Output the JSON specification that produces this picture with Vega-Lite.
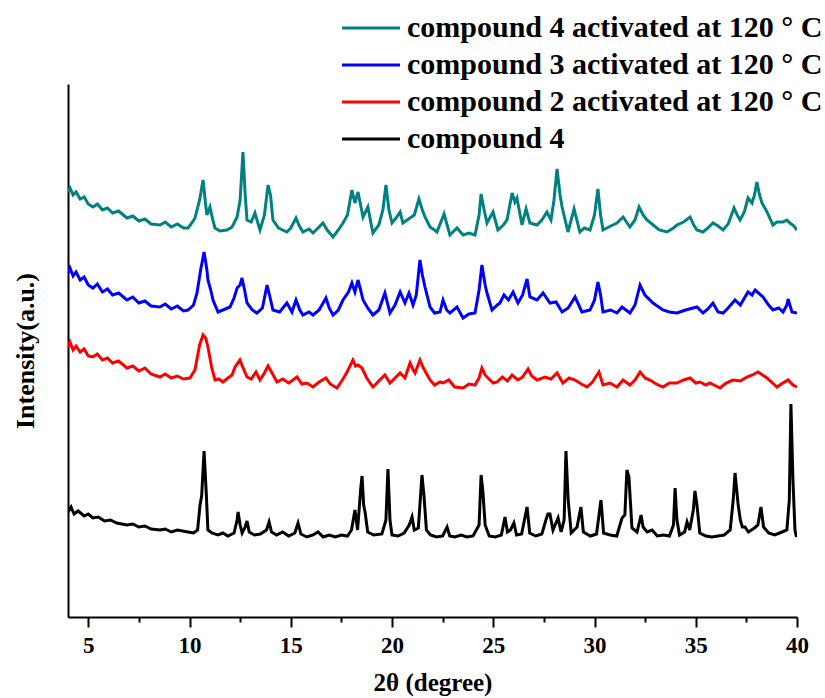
{
  "$schema": "https://vega.github.io/schema/vega-lite/v6.json",
  "width": 729,
  "height": 533,
  "autosize": {"type": "none"},
  "padding": {"left": 68, "top": 84, "right": 28, "bottom": 81},
  "background": "white",
  "config": {
    "view": {"stroke": null},
    "font": "Liberation Serif"
  },
  "datasets": {
    "teal": [
      {"x":4.00,"y":425},{"x":4.1,"y":429},{"x":4.25,"y":422},{"x":4.4,"y":425},{"x":4.6,"y":418},{"x":4.8,"y":420},{"x":5.0,"y":413},{"x":5.23,"y":410},{"x":5.45,"y":413},{"x":5.7,"y":407},{"x":5.95,"y":409},{"x":6.2,"y":404},{"x":6.5,"y":406},{"x":6.91,"y":399},{"x":7.2,"y":401},{"x":7.5,"y":396},{"x":7.8,"y":398},{"x":8.1,"y":393},{"x":8.54,"y":392},{"x":8.8,"y":395},{"x":9.1,"y":390},{"x":9.4,"y":393},{"x":9.7,"y":389},{"x":9.93,"y":389},{"x":10.15,"y":395},{"x":10.27,"y":399},{"x":10.5,"y":417},{"x":10.67,"y":437},{"x":10.8,"y":412},{"x":10.86,"y":402},{"x":11.01,"y":410},{"x":11.15,"y":397},{"x":11.26,"y":389},{"x":11.5,"y":386},{"x":11.85,"y":387},{"x":12.1,"y":390},{"x":12.35,"y":400},{"x":12.5,"y":417},{"x":12.64,"y":465},{"x":12.75,"y":422},{"x":12.84,"y":397},{"x":13.05,"y":395},{"x":13.23,"y":404},{"x":13.48,"y":387},{"x":13.7,"y":402},{"x":13.88,"y":432},{"x":14.0,"y":422},{"x":14.12,"y":397},{"x":14.4,"y":389},{"x":14.81,"y":385},{"x":15.0,"y":389},{"x":15.26,"y":399},{"x":15.4,"y":392},{"x":15.6,"y":385},{"x":15.9,"y":388},{"x":16.1,"y":384},{"x":16.35,"y":389},{"x":16.59,"y":394},{"x":16.8,"y":387},{"x":17.09,"y":380},{"x":17.35,"y":387},{"x":17.58,"y":394},{"x":17.8,"y":402},{"x":18.02,"y":427},{"x":18.17,"y":414},{"x":18.32,"y":425},{"x":18.45,"y":412},{"x":18.57,"y":400},{"x":18.81,"y":410},{"x":18.95,"y":395},{"x":19.06,"y":384},{"x":19.35,"y":392},{"x":19.55,"y":407},{"x":19.7,"y":432},{"x":19.85,"y":407},{"x":20.0,"y":394},{"x":20.2,"y":399},{"x":20.4,"y":405},{"x":20.54,"y":394},{"x":20.89,"y":399},{"x":21.1,"y":402},{"x":21.33,"y":418},{"x":21.5,"y":407},{"x":21.63,"y":400},{"x":21.88,"y":390},{"x":22.1,"y":387},{"x":22.22,"y":385},{"x":22.57,"y":403},{"x":22.86,"y":382},{"x":23.21,"y":389},{"x":23.51,"y":382},{"x":23.8,"y":384},{"x":24.1,"y":382},{"x":24.3,"y":402},{"x":24.4,"y":423},{"x":24.55,"y":407},{"x":24.69,"y":394},{"x":24.99,"y":405},{"x":25.23,"y":387},{"x":25.5,"y":392},{"x":25.68,"y":397},{"x":25.93,"y":424},{"x":26.07,"y":415},{"x":26.17,"y":419},{"x":26.42,"y":392},{"x":26.62,"y":408},{"x":26.81,"y":394},{"x":27.16,"y":392},{"x":27.4,"y":397},{"x":27.65,"y":405},{"x":27.85,"y":397},{"x":28.0,"y":417},{"x":28.15,"y":448},{"x":28.3,"y":422},{"x":28.4,"y":410},{"x":28.69,"y":385},{"x":28.99,"y":408},{"x":29.28,"y":385},{"x":29.5,"y":389},{"x":29.78,"y":387},{"x":30.0,"y":402},{"x":30.17,"y":428},{"x":30.3,"y":402},{"x":30.42,"y":387},{"x":30.8,"y":391},{"x":31.11,"y":394},{"x":31.41,"y":400},{"x":31.75,"y":390},{"x":32.0,"y":397},{"x":32.2,"y":410},{"x":32.4,"y":402},{"x":32.59,"y":397},{"x":32.9,"y":392},{"x":33.2,"y":387},{"x":33.58,"y":385},{"x":33.9,"y":389},{"x":34.07,"y":392},{"x":34.4,"y":395},{"x":34.72,"y":400},{"x":34.9,"y":392},{"x":35.06,"y":387},{"x":35.36,"y":385},{"x":35.6,"y":389},{"x":35.85,"y":394},{"x":36.1,"y":391},{"x":36.35,"y":387},{"x":36.6,"y":393},{"x":36.89,"y":409},{"x":37.05,"y":402},{"x":37.19,"y":397},{"x":37.4,"y":405},{"x":37.58,"y":419},{"x":37.78,"y":414},{"x":37.9,"y":422},{"x":38.02,"y":435},{"x":38.15,"y":422},{"x":38.27,"y":414},{"x":38.52,"y":405},{"x":38.81,"y":392},{"x":39.01,"y":395},{"x":39.31,"y":395},{"x":39.5,"y":397},{"x":39.65,"y":394},{"x":39.85,"y":391},{"x":40.0,"y":387}
    ],
    "blue": [
      {"x":4.00,"y":344},{"x":4.1,"y":349},{"x":4.25,"y":341},{"x":4.4,"y":345},{"x":4.6,"y":337},{"x":4.8,"y":340},{"x":5.0,"y":332},{"x":5.23,"y":329},{"x":5.45,"y":333},{"x":5.7,"y":325},{"x":5.95,"y":328},{"x":6.2,"y":322},{"x":6.5,"y":324},{"x":6.91,"y":317},{"x":7.2,"y":320},{"x":7.5,"y":314},{"x":7.8,"y":316},{"x":8.1,"y":311},{"x":8.54,"y":310},{"x":8.8,"y":313},{"x":9.1,"y":308},{"x":9.4,"y":311},{"x":9.7,"y":306},{"x":9.93,"y":307},{"x":10.2,"y":312},{"x":10.37,"y":324},{"x":10.55,"y":347},{"x":10.72,"y":365},{"x":10.86,"y":347},{"x":10.91,"y":337},{"x":11.05,"y":327},{"x":11.16,"y":317},{"x":11.41,"y":305},{"x":11.65,"y":307},{"x":12.0,"y":310},{"x":12.2,"y":319},{"x":12.35,"y":329},{"x":12.5,"y":332},{"x":12.59,"y":339},{"x":12.72,"y":327},{"x":12.84,"y":314},{"x":13.1,"y":307},{"x":13.33,"y":304},{"x":13.6,"y":309},{"x":13.83,"y":332},{"x":13.95,"y":322},{"x":14.12,"y":307},{"x":14.45,"y":305},{"x":14.81,"y":314},{"x":15.06,"y":305},{"x":15.26,"y":317},{"x":15.45,"y":307},{"x":15.6,"y":302},{"x":15.9,"y":305},{"x":16.1,"y":302},{"x":16.4,"y":307},{"x":16.74,"y":319},{"x":16.9,"y":309},{"x":17.09,"y":302},{"x":17.35,"y":307},{"x":17.58,"y":317},{"x":17.85,"y":325},{"x":18.02,"y":334},{"x":18.17,"y":325},{"x":18.32,"y":337},{"x":18.45,"y":327},{"x":18.57,"y":317},{"x":18.8,"y":309},{"x":19.06,"y":302},{"x":19.35,"y":307},{"x":19.65,"y":324},{"x":19.9,"y":304},{"x":20.15,"y":312},{"x":20.4,"y":325},{"x":20.64,"y":314},{"x":20.84,"y":324},{"x":21.04,"y":312},{"x":21.2,"y":322},{"x":21.38,"y":357},{"x":21.5,"y":342},{"x":21.63,"y":330},{"x":21.88,"y":310},{"x":22.1,"y":304},{"x":22.37,"y":305},{"x":22.52,"y":317},{"x":22.7,"y":307},{"x":22.86,"y":304},{"x":23.21,"y":310},{"x":23.51,"y":299},{"x":23.8,"y":303},{"x":24.1,"y":304},{"x":24.3,"y":327},{"x":24.44,"y":352},{"x":24.6,"y":332},{"x":24.69,"y":324},{"x":24.94,"y":307},{"x":25.2,"y":312},{"x":25.33,"y":314},{"x":25.53,"y":322},{"x":25.75,"y":317},{"x":25.98,"y":325},{"x":26.22,"y":314},{"x":26.45,"y":322},{"x":26.67,"y":338},{"x":26.81,"y":320},{"x":27.16,"y":317},{"x":27.46,"y":324},{"x":27.8,"y":314},{"x":28.1,"y":315},{"x":28.4,"y":305},{"x":28.7,"y":309},{"x":29.04,"y":320},{"x":29.38,"y":305},{"x":29.78,"y":307},{"x":30.0,"y":317},{"x":30.17,"y":335},{"x":30.3,"y":322},{"x":30.42,"y":305},{"x":30.8,"y":307},{"x":31.11,"y":304},{"x":31.36,"y":310},{"x":31.75,"y":304},{"x":32.0,"y":312},{"x":32.25,"y":332},{"x":32.49,"y":322},{"x":32.89,"y":314},{"x":33.38,"y":307},{"x":33.7,"y":305},{"x":34.07,"y":304},{"x":34.5,"y":307},{"x":35.06,"y":310},{"x":35.36,"y":304},{"x":35.6,"y":308},{"x":35.85,"y":314},{"x":36.1,"y":305},{"x":36.35,"y":304},{"x":36.6,"y":309},{"x":36.94,"y":317},{"x":37.2,"y":312},{"x":37.58,"y":325},{"x":37.78,"y":322},{"x":37.93,"y":327},{"x":38.1,"y":324},{"x":38.32,"y":320},{"x":38.6,"y":312},{"x":38.81,"y":307},{"x":39.1,"y":309},{"x":39.31,"y":305},{"x":39.5,"y":312},{"x":39.56,"y":318},{"x":39.75,"y":305},{"x":40.0,"y":304}
    ],
    "red": [
      {"x":4.00,"y":270},{"x":4.1,"y":275},{"x":4.25,"y":267},{"x":4.4,"y":271},{"x":4.6,"y":265},{"x":4.8,"y":268},{"x":5.0,"y":261},{"x":5.23,"y":260},{"x":5.45,"y":263},{"x":5.7,"y":257},{"x":5.95,"y":259},{"x":6.2,"y":254},{"x":6.5,"y":256},{"x":6.91,"y":249},{"x":7.2,"y":251},{"x":7.5,"y":246},{"x":7.8,"y":249},{"x":8.1,"y":243},{"x":8.54,"y":240},{"x":8.8,"y":243},{"x":9.1,"y":239},{"x":9.4,"y":241},{"x":9.7,"y":238},{"x":10.02,"y":239},{"x":10.27,"y":247},{"x":10.5,"y":272},{"x":10.67,"y":282},{"x":10.8,"y":279},{"x":10.91,"y":270},{"x":11.1,"y":249},{"x":11.26,"y":237},{"x":11.45,"y":238},{"x":11.65,"y":235},{"x":11.9,"y":239},{"x":12.1,"y":242},{"x":12.25,"y":250},{"x":12.49,"y":257},{"x":12.65,"y":249},{"x":12.84,"y":240},{"x":13.05,"y":238},{"x":13.28,"y":245},{"x":13.48,"y":237},{"x":13.7,"y":244},{"x":13.88,"y":251},{"x":14.05,"y":245},{"x":14.32,"y":235},{"x":14.6,"y":238},{"x":14.9,"y":234},{"x":15.11,"y":237},{"x":15.31,"y":240},{"x":15.55,"y":233},{"x":15.8,"y":234},{"x":16.1,"y":230},{"x":16.4,"y":235},{"x":16.74,"y":239},{"x":16.95,"y":233},{"x":17.28,"y":229},{"x":17.55,"y":237},{"x":17.78,"y":245},{"x":18.07,"y":257},{"x":18.2,"y":251},{"x":18.32,"y":252},{"x":18.52,"y":249},{"x":18.75,"y":239},{"x":19.06,"y":230},{"x":19.35,"y":236},{"x":19.65,"y":242},{"x":19.9,"y":234},{"x":20.15,"y":239},{"x":20.4,"y":244},{"x":20.64,"y":239},{"x":20.89,"y":254},{"x":21.05,"y":247},{"x":21.14,"y":244},{"x":21.38,"y":257},{"x":21.55,"y":249},{"x":21.88,"y":237},{"x":22.1,"y":232},{"x":22.37,"y":235},{"x":22.52,"y":234},{"x":22.8,"y":237},{"x":23.1,"y":230},{"x":23.51,"y":229},{"x":23.8,"y":233},{"x":24.1,"y":232},{"x":24.3,"y":239},{"x":24.44,"y":249},{"x":24.6,"y":242},{"x":24.74,"y":239},{"x":25.0,"y":234},{"x":25.19,"y":235},{"x":25.45,"y":240},{"x":25.7,"y":236},{"x":25.93,"y":242},{"x":26.22,"y":237},{"x":26.45,"y":240},{"x":26.72,"y":248},{"x":26.9,"y":241},{"x":27.16,"y":237},{"x":27.56,"y":240},{"x":27.85,"y":238},{"x":28.15,"y":244},{"x":28.44,"y":234},{"x":28.75,"y":239},{"x":29.04,"y":237},{"x":29.35,"y":233},{"x":29.63,"y":230},{"x":29.9,"y":235},{"x":30.22,"y":245},{"x":30.42,"y":232},{"x":30.77,"y":234},{"x":31.11,"y":230},{"x":31.41,"y":237},{"x":31.75,"y":232},{"x":32.0,"y":237},{"x":32.25,"y":245},{"x":32.5,"y":239},{"x":32.74,"y":237},{"x":33.05,"y":233},{"x":33.38,"y":230},{"x":33.7,"y":234},{"x":34.07,"y":234},{"x":34.4,"y":237},{"x":34.72,"y":239},{"x":35.0,"y":234},{"x":35.21,"y":235},{"x":35.5,"y":232},{"x":35.7,"y":234},{"x":36.0,"y":231},{"x":36.2,"y":229},{"x":36.5,"y":234},{"x":36.84,"y":237},{"x":37.2,"y":236},{"x":37.53,"y":240},{"x":37.8,"y":242},{"x":38.07,"y":245},{"x":38.3,"y":242},{"x":38.52,"y":239},{"x":38.8,"y":234},{"x":39.01,"y":230},{"x":39.3,"y":234},{"x":39.56,"y":237},{"x":39.8,"y":232},{"x":40.0,"y":230}
    ],
    "black": [
      {"x":4.00,"y":105},{"x":4.15,"y":110},{"x":4.3,"y":103},{"x":4.5,"y":106},{"x":4.8,"y":101},{"x":5.0,"y":103},{"x":5.23,"y":99},{"x":5.5,"y":100},{"x":5.8,"y":96},{"x":6.1,"y":97},{"x":6.4,"y":94},{"x":6.91,"y":92},{"x":7.2,"y":93},{"x":7.5,"y":90},{"x":7.8,"y":91},{"x":8.1,"y":88},{"x":8.54,"y":87},{"x":8.8,"y":88},{"x":9.1,"y":85},{"x":9.4,"y":87},{"x":9.93,"y":85},{"x":10.2,"y":84},{"x":10.4,"y":87},{"x":10.52,"y":112},{"x":10.6,"y":121},{"x":10.72,"y":166},{"x":10.82,"y":127},{"x":10.91,"y":87},{"x":11.1,"y":84},{"x":11.4,"y":82},{"x":11.65,"y":84},{"x":11.9,"y":81},{"x":12.2,"y":84},{"x":12.35,"y":97},{"x":12.4,"y":105},{"x":12.5,"y":92},{"x":12.6,"y":84},{"x":12.75,"y":90},{"x":12.84,"y":96},{"x":12.95,"y":85},{"x":13.2,"y":82},{"x":13.5,"y":83},{"x":13.8,"y":87},{"x":13.93,"y":95},{"x":14.05,"y":85},{"x":14.3,"y":82},{"x":14.6,"y":85},{"x":14.9,"y":81},{"x":15.2,"y":84},{"x":15.36,"y":94},{"x":15.5,"y":83},{"x":15.8,"y":80},{"x":16.1,"y":82},{"x":16.35,"y":85},{"x":16.6,"y":80},{"x":16.9,"y":82},{"x":17.2,"y":80},{"x":17.5,"y":82},{"x":17.8,"y":81},{"x":18.0,"y":87},{"x":18.17,"y":107},{"x":18.3,"y":87},{"x":18.45,"y":127},{"x":18.52,"y":141},{"x":18.6,"y":112},{"x":18.67,"y":105},{"x":18.8,"y":85},{"x":19.1,"y":82},{"x":19.5,"y":83},{"x":19.7,"y":97},{"x":19.8,"y":148},{"x":19.9,"y":97},{"x":20.0,"y":82},{"x":20.3,"y":81},{"x":20.6,"y":84},{"x":20.85,"y":92},{"x":20.99,"y":100},{"x":21.1,"y":87},{"x":21.3,"y":89},{"x":21.48,"y":142},{"x":21.58,"y":121},{"x":21.7,"y":87},{"x":21.9,"y":82},{"x":22.2,"y":80},{"x":22.5,"y":81},{"x":22.72,"y":90},{"x":22.85,"y":81},{"x":23.1,"y":80},{"x":23.41,"y":82},{"x":23.7,"y":80},{"x":24.0,"y":81},{"x":24.3,"y":92},{"x":24.4,"y":142},{"x":24.49,"y":125},{"x":24.6,"y":92},{"x":24.8,"y":81},{"x":25.1,"y":80},{"x":25.4,"y":82},{"x":25.58,"y":100},{"x":25.7,"y":85},{"x":25.85,"y":87},{"x":26.02,"y":94},{"x":26.15,"y":82},{"x":26.4,"y":83},{"x":26.67,"y":110},{"x":26.8,"y":84},{"x":27.1,"y":81},{"x":27.4,"y":83},{"x":27.6,"y":97},{"x":27.7,"y":103},{"x":27.8,"y":103},{"x":27.95,"y":87},{"x":28.2,"y":99},{"x":28.35,"y":85},{"x":28.5,"y":97},{"x":28.59,"y":166},{"x":28.7,"y":117},{"x":28.85,"y":84},{"x":29.14,"y":90},{"x":29.25,"y":102},{"x":29.33,"y":110},{"x":29.45,"y":85},{"x":29.8,"y":81},{"x":30.1,"y":83},{"x":30.32,"y":117},{"x":30.45,"y":84},{"x":30.77,"y":82},{"x":31.1,"y":81},{"x":31.36,"y":99},{"x":31.5,"y":102},{"x":31.6,"y":147},{"x":31.7,"y":140},{"x":31.85,"y":89},{"x":32.1,"y":85},{"x":32.3,"y":102},{"x":32.4,"y":90},{"x":32.6,"y":85},{"x":32.84,"y":87},{"x":33.1,"y":81},{"x":33.4,"y":82},{"x":33.7,"y":81},{"x":33.9,"y":92},{"x":33.98,"y":129},{"x":34.07,"y":97},{"x":34.2,"y":82},{"x":34.45,"y":85},{"x":34.57,"y":95},{"x":34.7,"y":87},{"x":34.88,"y":107},{"x":34.96,"y":126},{"x":35.06,"y":112},{"x":35.2,"y":84},{"x":35.5,"y":81},{"x":35.8,"y":80},{"x":36.1,"y":81},{"x":36.4,"y":82},{"x":36.7,"y":87},{"x":36.85,"y":117},{"x":36.94,"y":144},{"x":37.09,"y":113},{"x":37.2,"y":97},{"x":37.3,"y":90},{"x":37.43,"y":90},{"x":37.6,"y":85},{"x":37.9,"y":89},{"x":38.07,"y":92},{"x":38.22,"y":110},{"x":38.35,"y":90},{"x":38.6,"y":84},{"x":38.9,"y":82},{"x":39.26,"y":85},{"x":39.5,"y":87},{"x":39.62,"y":117},{"x":39.7,"y":213},{"x":39.8,"y":137},{"x":39.9,"y":87},{"x":39.97,"y":80}
    ]
  },
  "encoding": {
    "x": {
      "field": "x", "type": "quantitative",
      "scale": {"domain": [4, 40], "nice": false, "zero": false},
      "axis": {
        "title": "2θ (degree)",
        "values": [5, 7.5, 10, 12.5, 15, 17.5, 20, 22.5, 25, 27.5, 30, 32.5, 35, 37.5, 40],
        "labelExpr": "datum.value % 5 === 0 ? datum.label : ''",
        "tickSize": {"condition": {"test": "datum.value % 5 === 0", "value": 10}, "value": 5},
        "tickWidth": 2, "tickColor": "black",
        "domainColor": "black", "domainWidth": 2,
        "grid": false,
        "labelFont": "Liberation Serif", "labelFontWeight": "bold", "labelFontSize": 23, "labelColor": "black",
        "labelPadding": 7, "labelFlush": false, "labelOverlap": false,
        "titleFont": "Liberation Serif", "titleFontWeight": "bold", "titleFontSize": 25, "titleColor": "black",
        "titlePadding": 13
      }
    },
    "y": {
      "field": "y", "type": "quantitative",
      "scale": {"domain": [0, 533], "nice": false, "zero": false},
      "axis": {
        "title": "Intensity(a.u.)",
        "ticks": false, "labels": false, "grid": false,
        "domainColor": "black", "domainWidth": 2,
        "titleFont": "Liberation Serif", "titleFontWeight": "bold", "titleFontSize": 26, "titleColor": "black",
        "titlePadding": 30
      }
    },
    "color": {
      "type": "nominal",
      "scale": {
        "domain": ["compound 4 activated at 120 ° C", "compound 3 activated at 120 ° C", "compound 2 activated at 120 ° C", "compound 4"],
        "range": ["#008080", "#0000FF", "#FF0000", "#000000"]
      },
      "legend": {
        "title": null,
        "orient": "none",
        "legendX": 288,
        "legendY": -71,
        "symbolType": "M-2.9,0H2.9",
        "symbolSize": 400,
        "symbolStrokeWidth": 3,
        "labelFont": "Liberation Serif",
        "labelFontWeight": "bold",
        "labelFontSize": 30,
        "labelColor": "black",
        "labelLimit": 0,
        "labelOffset": 21,
        "rowPadding": 7,
        "padding": 0
      }
    }
  },
  "layer": [
    {"data": {"name": "black"}, "mark": {"type": "line", "strokeWidth": 3, "clip": true}, "encoding": {"color": {"datum": "compound 4"}}},
    {"data": {"name": "red"}, "mark": {"type": "line", "strokeWidth": 3, "clip": true}, "encoding": {"color": {"datum": "compound 2 activated at 120 ° C"}}},
    {"data": {"name": "blue"}, "mark": {"type": "line", "strokeWidth": 3, "clip": true}, "encoding": {"color": {"datum": "compound 3 activated at 120 ° C"}}},
    {"data": {"name": "teal"}, "mark": {"type": "line", "strokeWidth": 3, "clip": true}, "encoding": {"color": {"datum": "compound 4 activated at 120 ° C"}}}
  ]
}
